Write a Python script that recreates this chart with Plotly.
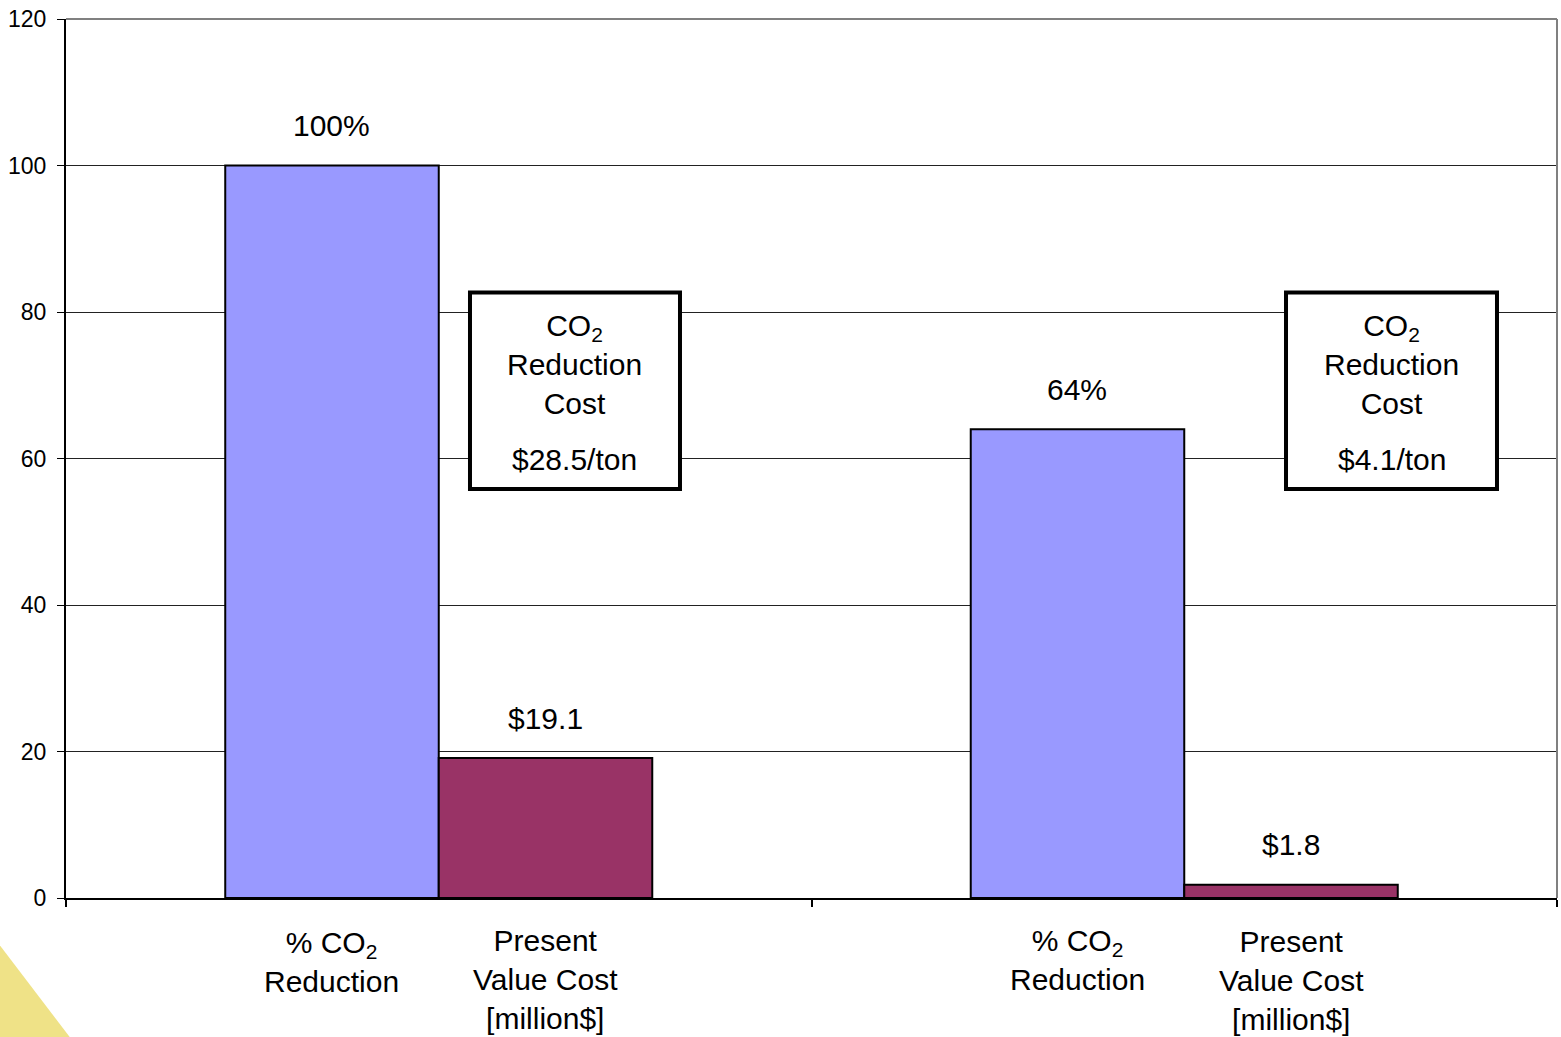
import plotly.graph_objects as go

# ---- data ----
categories = [1, 2]
co2_reduction = [100, 64]          # % CO2 reduction
pv_cost = [19.1, 1.8]              # present value cost [million$]
co2_labels = ["100%", "64%"]
cost_labels = ["$19.1", "$1.8"]
cost_per_ton = ["$28.5/ton", "$4.1/ton"]
bottom_left = ["% CO<sub>2</sub><br>Reduction", "% CO<sub>2</sub><br>Reduction"]
bottom_right = ["Present<br>Value Cost<br>[million$]", "Present<br>Value Cost<br>[million$]"]
y_ticks = [0, 20, 40, 60, 80, 100, 120]

# ---- styling ----
FONT = "Arial, Liberation Sans, sans-serif"
BLUE = "#9999FF"
MAROON = "#993366"
BAR_W = 0.2864
W, H = 1561, 1037
ML, MR, MT, MB = 66, 4, 19, 139
PW, PH = W - ML - MR, H - MT - MB

def px_to_paper_x(px):
    return (px - ML) / PW

def px_to_paper_y(py):
    return (H - MB - py) / PH

fig = go.Figure()
fig.add_trace(go.Bar(x=categories, y=co2_reduction, marker=dict(color=BLUE, line=dict(color="black", width=2)),
                     name="% CO2 Reduction", hoverinfo="skip"))
fig.add_trace(go.Bar(x=categories, y=pv_cost, marker=dict(color=MAROON, line=dict(color="black", width=2)),
                     name="Present Value Cost", hoverinfo="skip"))

annotations = []
shapes = []
for i, c in enumerate(categories):
    xl = c - BAR_W / 2
    xr = c + BAR_W / 2
    # value labels above bars
    annotations.append(dict(x=xl, y=co2_reduction[i], xref="x", yref="y", text=co2_labels[i],
                            showarrow=False, yanchor="middle", yshift=40,
                            font=dict(size=30, color="black", family=FONT)))
    annotations.append(dict(x=xr, y=pv_cost[i], xref="x", yref="y", text=cost_labels[i],
                            showarrow=False, yanchor="middle", yshift=40,
                            font=dict(size=30, color="black", family=FONT)))
    # category labels below
    annotations.append(dict(x=xl, y=px_to_paper_y(962 - 2 * i), xref="x", yref="paper", text=bottom_left[i],
                            showarrow=False, yanchor="middle", align="center",
                            font=dict(size=30, color="black", family=FONT)))
    annotations.append(dict(x=xr, y=px_to_paper_y(979 + i), xref="x", yref="paper", text=bottom_right[i],
                            showarrow=False, yanchor="middle", align="center",
                            font=dict(size=30, color="black", family=FONT)))

# cost boxes (positioned relative to each category)
box_offsets = [(0.0419, 0.3236), (0.1365, 0.4195)]
for i, c in enumerate(categories):
    x0 = c + box_offsets[i][0]
    x1 = c + box_offsets[i][1]
    xc = (x0 + x1) / 2
    shapes.append(dict(type="rect", xref="x", yref="y", x0=x0, x1=x1, y0=55.84, y1=82.65,
                       line=dict(color="black", width=4), fillcolor="white", layer="above"))
    annotations.append(dict(x=xc, y=72.9, xref="x", yref="y",
                            text="CO<sub>2</sub><br>Reduction<br>Cost", showarrow=False,
                            yanchor="middle", align="center",
                            font=dict(size=30, color="black", family=FONT)))
    annotations.append(dict(x=xc, y=59.8, xref="x", yref="y", text=cost_per_ton[i], showarrow=False,
                            yanchor="middle", font=dict(size=30, color="black", family=FONT)))

# plot area top / right border (gray)
shapes.append(dict(type="line", xref="paper", yref="paper", x0=0, x1=1, y0=1, y1=1,
                   line=dict(color="#808080", width=2), layer="above"))
shapes.append(dict(type="line", xref="paper", yref="paper", x0=1, x1=1, y0=0, y1=1,
                   line=dict(color="#808080", width=2), layer="above"))
# yellow corner decoration
shapes.append(dict(type="path", xref="paper", yref="paper",
                   path=f"M {px_to_paper_x(-2)},{px_to_paper_y(943)} L {px_to_paper_x(-2)},{px_to_paper_y(1040)} "
                        f"L {px_to_paper_x(72)},{px_to_paper_y(1040)} Z",
                   fillcolor="#EFE287", line=dict(width=0), layer="below"))

fig.update_layout(
    width=W, height=H,
    margin=dict(l=ML, r=MR, t=MT, b=MB, pad=0),
    paper_bgcolor="white", plot_bgcolor="white",
    barmode="group", bargap=1 - 2 * BAR_W, bargroupgap=0,
    showlegend=False,
    font=dict(family=FONT, color="black"),
    annotations=annotations,
    shapes=shapes,
    xaxis=dict(range=[0.5, 2.5], tickvals=[0.5, 1.5, 2.5], showticklabels=False,
               ticks="outside", ticklen=7, tickwidth=2, tickcolor="black",
               showline=True, linecolor="black", linewidth=2, showgrid=False, zeroline=False),
    yaxis=dict(range=[0, 120], tickvals=y_ticks, ticks="outside", ticklen=7, tickwidth=1,
               tickcolor="black", showline=True, linecolor="black", linewidth=2,
               showgrid=True, gridcolor="#222222", gridwidth=1, zeroline=False,
               tickfont=dict(size=23, color="black", family=FONT), ticklabelstandoff=6),
)

fig.write_html("out.html", config={"displayModeBar": False, "staticPlot": True},
               post_script="document.body.style.margin='0';document.body.style.overflow='hidden';")
